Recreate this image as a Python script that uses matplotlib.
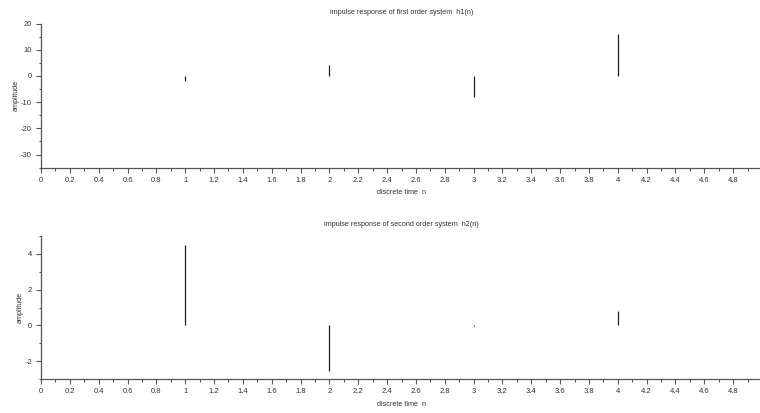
import numpy as np
import matplotlib.pyplot as plt
from matplotlib.ticker import MultipleLocator

# discrete time samples
n = [1, 2, 3, 4]
# first order system h1(n) = (-2)^n
h1 = [-2, 4, -8, 16]
# second order system h2(n)
h2 = [4.5, -2.58, -0.05, 0.8]

x_ticks = [0, 0.2, 0.4, 0.6, 0.8, 1, 1.2, 1.4, 1.6, 1.8, 2, 2.2, 2.4, 2.6, 2.8,
           3, 3.2, 3.4, 3.6, 3.8, 4, 4.2, 4.4, 4.6, 4.8]
x_labels = ["0", "0.2", "0.4", "0.6", "0.8", "1", "1.2", "1.4", "1.6", "1.8", "2",
            "2.2", "2.4", "2.6", "2.8", "3", "3.2", "3.4", "3.6", "3.8", "4",
            "4.2", "4.4", "4.6", "4.8"]

plt.rcParams['font.family'] = ['Liberation Sans', 'DejaVu Sans']

fig = plt.figure(figsize=(7.6, 4.13), dpi=100)
ax1 = fig.add_axes([41 / 760, 1 - 167.7 / 413, 721 / 760, 144.2 / 413])
ax2 = fig.add_axes([41 / 760, 1 - 379 / 413, 721 / 760, 143 / 413])

axis_col = "#555555"


def style(ax, ylim, yticks, yminor, title):
    ax.set_xlim(0, 5)
    ax.set_ylim(*ylim)
    ax.set_xticks(x_ticks)
    ax.set_xticklabels(x_labels)
    ax.xaxis.set_minor_locator(MultipleLocator(0.1))
    ax.set_yticks(yticks)
    ax.set_yticklabels([str(v) for v in yticks])
    ax.yaxis.set_minor_locator(MultipleLocator(yminor))
    for s in ["top", "right"]:
        ax.spines[s].set_visible(False)
    for s in ["left", "bottom"]:
        ax.spines[s].set_color(axis_col)
        ax.spines[s].set_linewidth(0.9)
    ax.tick_params(which="major", direction="out", length=3.5, width=0.8,
                   color=axis_col, labelsize=5.5, labelcolor="#333333", pad=3)
    ax.tick_params(which="minor", direction="out", length=1.8, width=0.8,
                   color=axis_col)
    ax.set_title(title, fontsize=5.2, color="#333333", pad=7)
    ax.set_xlabel("discrete time  n", fontsize=5.2, color="#333333", labelpad=4)
    ax.set_ylabel("amplitude", fontsize=5.2, color="#333333", labelpad=1)


ax1.vlines(n, 0, h1, colors="#222222", linewidth=0.9)
style(ax1, (-35, 20), [-30, -20, -10, 0, 10, 20], 5,
      "impulse response of first order system  h1(n)")

ax2.vlines(n, 0, h2, colors="#222222", linewidth=0.9)
style(ax2, (-3, 5), [-2, 0, 2, 4], 1,
      "impulse response of second order system  h2(n)")

fig.savefig("out.png", dpi=100)
